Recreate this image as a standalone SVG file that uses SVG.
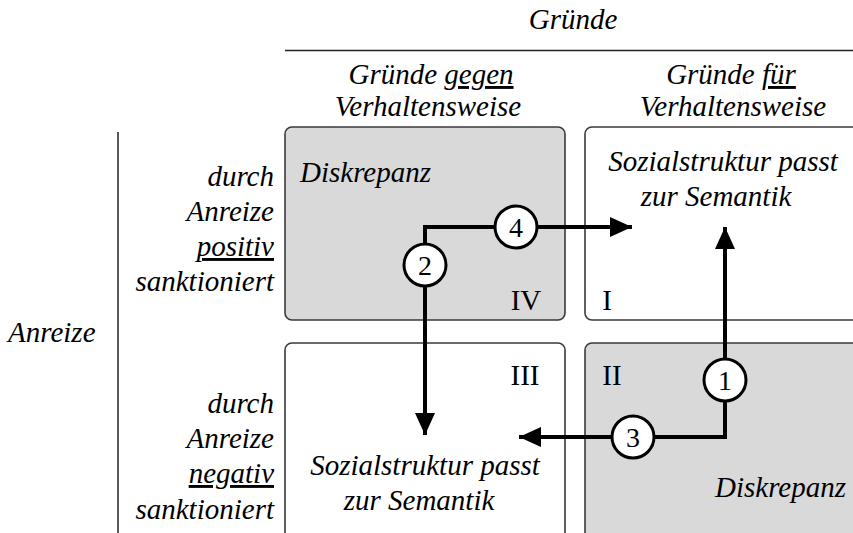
<svg xmlns="http://www.w3.org/2000/svg" width="853" height="533" viewBox="0 0 853 533">
<style>
.u{text-decoration:underline}
.box{stroke:#3a3a3a;stroke-width:1.6}
.g{fill:#d9d9d9}
.w{fill:#ffffff}
.c{stroke:#000;stroke-width:4;fill:none}
.circ{fill:#fff;stroke:#000;stroke-width:3}
</style>
<defs>
<marker id="ah" markerUnits="userSpaceOnUse" markerWidth="24" markerHeight="20" refX="22" refY="10" orient="auto">
<path d="M0,0 L22,10 L0,20 Z" fill="#000"/>
</marker>
</defs>
<rect width="853" height="533" fill="#fff"/>
<g id="header">
<text x="573" y="29" text-anchor="middle" font-family="Liberation Serif" font-style="italic" font-size="29">Gründe</text>
<line x1="285" y1="50.5" x2="853" y2="50.5" stroke="#222" stroke-width="1.5"/>
<text x="431" y="84" text-anchor="middle" font-family="Liberation Serif" font-style="italic" font-size="29">Gründe <tspan class="u">gegen</tspan></text>
<text x="428" y="116" text-anchor="middle" font-family="Liberation Serif" font-style="italic" font-size="29">Verhaltensweise</text>
<text x="731" y="84" text-anchor="middle" font-family="Liberation Serif" font-style="italic" font-size="29">Gründe <tspan class="u">für</tspan></text>
<text x="733" y="116" text-anchor="middle" font-family="Liberation Serif" font-style="italic" font-size="29">Verhaltensweise</text>
</g>
<g id="rowlabels">
<text x="8" y="342" font-family="Liberation Serif" font-style="italic" font-size="29">Anreize</text>
<line x1="118" y1="132" x2="118" y2="533" stroke="#222" stroke-width="1.5"/>
<text x="274" y="186" text-anchor="end" font-family="Liberation Serif" font-style="italic" font-size="29">durch</text>
<text x="274" y="221" text-anchor="end" font-family="Liberation Serif" font-style="italic" font-size="29">Anreize</text>
<text class="u" x="274" y="256" text-anchor="end" font-family="Liberation Serif" font-style="italic" font-size="29">positiv</text>
<text x="274" y="291" text-anchor="end" font-family="Liberation Serif" font-style="italic" font-size="29">sanktioniert</text>
<text x="274" y="413" text-anchor="end" font-family="Liberation Serif" font-style="italic" font-size="29">durch</text>
<text x="274" y="448" text-anchor="end" font-family="Liberation Serif" font-style="italic" font-size="29">Anreize</text>
<text class="u" x="274" y="483" text-anchor="end" font-family="Liberation Serif" font-style="italic" font-size="29">negativ</text>
<text x="274" y="519" text-anchor="end" font-family="Liberation Serif" font-style="italic" font-size="29">sanktioniert</text>
</g>
<g id="q4">
<rect class="box g" x="285" y="127" width="280" height="193" rx="7"/>
<text x="300" y="182" font-family="Liberation Serif" font-style="italic" font-size="29">Diskrepanz</text>
<text x="526" y="310" text-anchor="middle" font-family="Liberation Serif" font-size="29">IV</text>
</g>
<g id="q1">
<rect class="box w" x="585" y="127" width="290" height="193" rx="7"/>
<text x="723" y="171" text-anchor="middle" font-family="Liberation Serif" font-style="italic" font-size="29">Sozialstruktur passt</text>
<text x="716" y="206" text-anchor="middle" font-family="Liberation Serif" font-style="italic" font-size="29">zur Semantik</text>
<text x="607" y="310" text-anchor="middle" font-family="Liberation Serif" font-size="29">I</text>
</g>
<g id="q3">
<rect class="box w" x="285" y="343" width="280" height="200" rx="7"/>
<text x="525" y="385" text-anchor="middle" font-family="Liberation Serif" font-size="29">III</text>
<text x="425" y="475" text-anchor="middle" font-family="Liberation Serif" font-style="italic" font-size="29">Sozialstruktur passt</text>
<text x="419" y="510" text-anchor="middle" font-family="Liberation Serif" font-style="italic" font-size="29">zur Semantik</text>
</g>
<g id="q2">
<rect class="box g" x="585" y="343" width="290" height="200" rx="7"/>
<text x="612" y="385" text-anchor="middle" font-family="Liberation Serif" font-size="29">II</text>
<text x="715" y="497" font-family="Liberation Serif" font-style="italic" font-size="29">Diskrepanz</text>
</g>
<g id="connectors">
<path class="c" d="M425,227 L632,227" marker-end="url(#ah)"/>
<path class="c" d="M425,225 L425,435" marker-end="url(#ah)"/>
<path class="c" d="M725,437 L725,227" marker-end="url(#ah)"/>
<path class="c" d="M727,437 L519,437" marker-end="url(#ah)"/>
</g>
<g id="labels">
<g id="l1"><circle class="circ" cx="725" cy="380" r="21"/><text x="725" y="390" text-anchor="middle" font-family="Liberation Serif" font-size="28">1</text></g>
<g id="l2"><circle class="circ" cx="425" cy="265" r="21"/><text x="425" y="275" text-anchor="middle" font-family="Liberation Serif" font-size="28">2</text></g>
<g id="l3"><circle class="circ" cx="633" cy="437" r="21"/><text x="633" y="447" text-anchor="middle" font-family="Liberation Serif" font-size="28">3</text></g>
<g id="l4"><circle class="circ" cx="516" cy="227" r="21"/><text x="516" y="237" text-anchor="middle" font-family="Liberation Serif" font-size="28">4</text></g>
</g>
</svg>
